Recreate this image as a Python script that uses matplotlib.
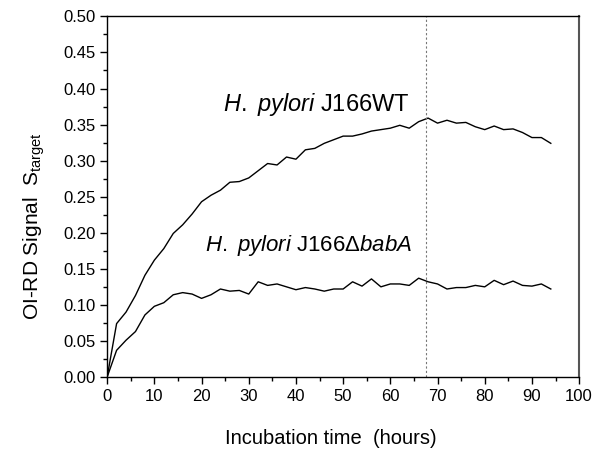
import numpy as np
import matplotlib
matplotlib.use("Agg")
import matplotlib.pyplot as plt
from matplotlib.ticker import MultipleLocator

plt.rcParams['font.family'] = ['Liberation Sans', 'DejaVu Sans']
plt.rcParams['mathtext.fontset'] = 'custom'
plt.rcParams['mathtext.rm'] = 'Liberation Sans'
plt.rcParams['mathtext.it'] = 'Liberation Sans:italic'

hours = list(range(0, 96, 2))
wt = [0.000, 0.074, 0.090, 0.113, 0.141, 0.162, 0.178, 0.199, 0.211, 0.226,
      0.243, 0.252, 0.259, 0.270, 0.271, 0.276, 0.286, 0.296, 0.294, 0.305,
      0.302, 0.315, 0.317, 0.324, 0.329, 0.334, 0.334, 0.337, 0.341, 0.343,
      0.345, 0.349, 0.345, 0.354, 0.359, 0.352, 0.356, 0.352, 0.353, 0.347,
      0.343, 0.348, 0.343, 0.344, 0.339, 0.332, 0.332, 0.324]
babA = [0.000, 0.037, 0.051, 0.063, 0.086, 0.098, 0.103, 0.114, 0.117, 0.115,
        0.109, 0.114, 0.122, 0.119, 0.120, 0.115, 0.132, 0.127, 0.129, 0.125,
        0.121, 0.124, 0.122, 0.119, 0.122, 0.122, 0.132, 0.126, 0.136, 0.125,
        0.129, 0.129, 0.127, 0.137, 0.132, 0.129, 0.122, 0.124, 0.124, 0.127,
        0.125, 0.134, 0.128, 0.133, 0.127, 0.126, 0.129, 0.122]
vline_x = 67.5

fig = plt.figure(figsize=(6.02, 4.53), dpi=100)
ax = fig.add_axes([0.178, 0.1678, 0.784, 0.796])

ax.plot(hours, wt, color='black', lw=1.0)
ax.plot(hours, babA, color='black', lw=1.0)
ax.axvline(vline_x, color='#777777', lw=0.8, ls=(0, (2, 2)))

ax.set_xlim(0, 100)
ax.set_ylim(0, 0.5)
ax.xaxis.set_major_locator(MultipleLocator(10))
ax.xaxis.set_minor_locator(MultipleLocator(5))
ax.yaxis.set_major_locator(MultipleLocator(0.05))
ax.yaxis.set_minor_locator(MultipleLocator(0.025))
ax.yaxis.set_major_formatter(matplotlib.ticker.FormatStrFormatter('%.2f'))
ax.tick_params(which='major', direction='out', length=5, width=1, labelsize=12, colors='black')
ax.tick_params(which='minor', direction='out', length=3, width=1)
for s in ax.spines.values():
    s.set_linewidth(1.0)
ax.spines['right'].set_color('#555555')
ax.spines['right'].set_linewidth(1.5)

ax.text(24.5, 0.378, r'$\it{H.\ pylori}$ J166WT', fontsize=17, va='center', ha='left')
ax.text(20.8, 0.183, r'$\it{H.\ pylori}$ J166$\Delta\it{babA}$', fontsize=16, va='center', ha='left')

ax.set_xlabel('Incubation time  (hours)', fontsize=14.5)
ax.set_ylabel(r'OI-RD Signal  S$_{\rm target}$', fontsize=15)
ax.xaxis.set_label_coords(0.474, -0.145)
ax.yaxis.set_label_coords(-0.128, 0.42)

fig.savefig('out.png', dpi=100)
